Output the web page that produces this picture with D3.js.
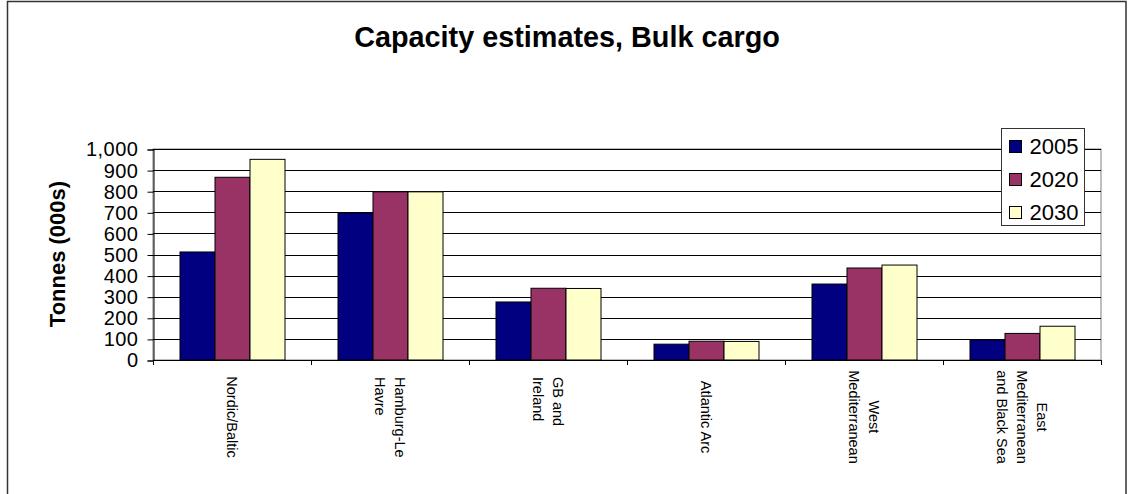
<!DOCTYPE html>
<html>
<head>
<meta charset="utf-8">
<script src="https://cdn.jsdelivr.net/npm/d3@7"></script>
<style>
  html, body { margin: 0; padding: 0; background: #fff; }
  svg { display: block; font-family: Arial, "Liberation Sans", sans-serif; }
</style>
</head>
<body>
<svg id="chart" width="1130" height="494"></svg>
<script>
// Regions (each label split into its displayed lines)
const categories = ["Nordic/Baltic", "Hamburg-Le Havre", "GB and Ireland", "Atlantic Arc", "West Mediterranean", "East Mediterranean and Black Sea"];
const categoryLines = [
  ["Nordic/Baltic"],
  ["Hamburg-Le", "Havre"],
  ["GB and", "Ireland"],
  ["Atlantic Arc"],
  ["West", "Mediterranean"],
  ["East", "Mediterranean", "and Black Sea"]
];
const seriesNames = ["2005", "2020", "2030"];
// Capacity, thousand tonnes
const values2005 = [512, 697, 275, 75, 360, 95];
const values2020 = [866, 797, 340, 89, 436, 126];
const values2030 = [951, 797, 339, 88, 450, 160];
const yTicks = [0, 100, 200, 300, 400, 500, 600, 700, 800, 900, 1000];

const seriesValues = [values2005, values2020, values2030];
const colors = ["#000080", "#993366", "#FFFFCC"];

const svg = d3.select("#chart");
const plot = { left: 153, right: 1101, top: 149, bottom: 360 };

// outer chart frame
svg.append("rect")
  .attr("x", 7.5).attr("y", 1.5)
  .attr("width", 1118.5).attr("height", 520)
  .attr("fill", "#fff").attr("stroke", "#333").attr("stroke-width", 1.5);

// title
svg.append("text")
  .attr("x", 567).attr("y", 47)
  .attr("text-anchor", "middle")
  .attr("font-size", 28.8).attr("font-weight", "bold")
  .text("Capacity estimates, Bulk cargo");

const x0 = d3.scaleBand().domain(d3.range(categories.length)).range([plot.left, plot.right]).padding(0);
const x1 = d3.scaleBand().domain(d3.range(seriesNames.length)).range([0, x0.bandwidth()])
  .paddingInner(0).paddingOuter(0.757);
const y = d3.scaleLinear().domain([0, 1000]).range([plot.bottom, plot.top]);

// plot area border (right side is grey)
svg.append("rect")
  .attr("x", plot.left).attr("y", plot.top)
  .attr("width", plot.right - plot.left).attr("height", plot.bottom - plot.top)
  .attr("fill", "#fff").attr("stroke", "#808080").attr("stroke-width", 1);

// gridlines
svg.append("g").selectAll("line").data(yTicks.filter(d => d > 0)).join("line")
  .attr("x1", plot.left).attr("x2", plot.right)
  .attr("y1", d => Math.round(y(d)) + 0.5).attr("y2", d => Math.round(y(d)) + 0.5)
  .attr("stroke", "#000").attr("stroke-width", 1);

// bars
const groups = svg.append("g").selectAll("g").data(categories).join("g")
  .attr("transform", (d, i) => `translate(${x0(i)},0)`);
groups.selectAll("rect")
  .data((d, i) => seriesValues.map((s, k) => ({ k, v: s[i] })))
  .join("rect")
  .attr("x", d => x1(d.k) + 0.5)
  .attr("y", d => y(d.v))
  .attr("width", x1.bandwidth())
  .attr("height", d => y(0) - y(d.v))
  .attr("fill", d => colors[d.k])
  .attr("stroke", "#000").attr("stroke-width", 1);

// y axis
const yAxis = d3.axisLeft(y).tickValues(yTicks).tickFormat(d3.format(",")).tickSize(6).tickPadding(9);
const gy = svg.append("g").attr("transform", `translate(${plot.left + 0.5},0.5)`).call(yAxis);
gy.select(".domain").attr("stroke", "#000");
gy.selectAll(".tick line").attr("stroke", "#000");
gy.selectAll(".tick text").attr("font-size", 20).attr("fill", "#000")
  .attr("letter-spacing", 0.5)
  .attr("font-family", "Arial, 'Liberation Sans', sans-serif");

// x axis line with ticks at category boundaries
svg.append("line")
  .attr("x1", plot.left).attr("x2", plot.right + 1)
  .attr("y1", plot.bottom + 0.5).attr("y2", plot.bottom + 0.5)
  .attr("stroke", "#000");
const bounds = d3.range(categories.length + 1).map(i => plot.left + i * x0.bandwidth());
svg.append("g").selectAll("line").data(bounds).join("line")
  .attr("x1", d => Math.round(d) + 0.5).attr("x2", d => Math.round(d) + 0.5)
  .attr("y1", plot.bottom).attr("y2", plot.bottom + 5)
  .attr("stroke", "#000");

// category labels, rotated to read downward
const lineGap = 20;
const labelAlign = ["middle", "start", "start", "middle", "middle", "middle"];
categoryLines.forEach((lines, i) => {
  const cx = x0(i) + x0.bandwidth() / 2;
  const n = lines.length;
  const anchor = labelAlign[i];
  const t = svg.append("text")
    .attr("font-size", 14.5)
    .attr("text-anchor", anchor)
    .attr("transform", `translate(${cx},${anchor === "start" ? 377 : 417}) rotate(90)`);
  lines.forEach((l, j) => {
    t.append("tspan")
      .attr("x", 0)
      .attr("y", (j - (n - 1) / 2) * lineGap)
      .attr("dy", "0.35em")
      .text(l);
  });
});

// y axis title
svg.append("text")
  .attr("transform", `translate(65,254) rotate(-90)`)
  .attr("text-anchor", "middle")
  .attr("font-size", 22).attr("font-weight", "bold")
  .text("Tonnes (000s)");

// legend
const lg = svg.append("g").attr("transform", "translate(1001.5,128.5)");
lg.append("rect").attr("width", 83).attr("height", 97)
  .attr("fill", "#fff").attr("stroke", "#333").attr("stroke-width", 1);
const items = lg.selectAll("g").data(seriesNames).join("g")
  .attr("transform", (d, i) => `translate(8,${12 + i * 33})`);
items.append("rect").attr("width", 12).attr("height", 12)
  .attr("fill", (d, i) => colors[i]).attr("stroke", "#000").attr("stroke-width", 1);
items.append("text").attr("x", 20).attr("y", 6).attr("dy", "0.36em")
  .attr("font-size", 22).text(d => d);
</script>
</body>
</html>
